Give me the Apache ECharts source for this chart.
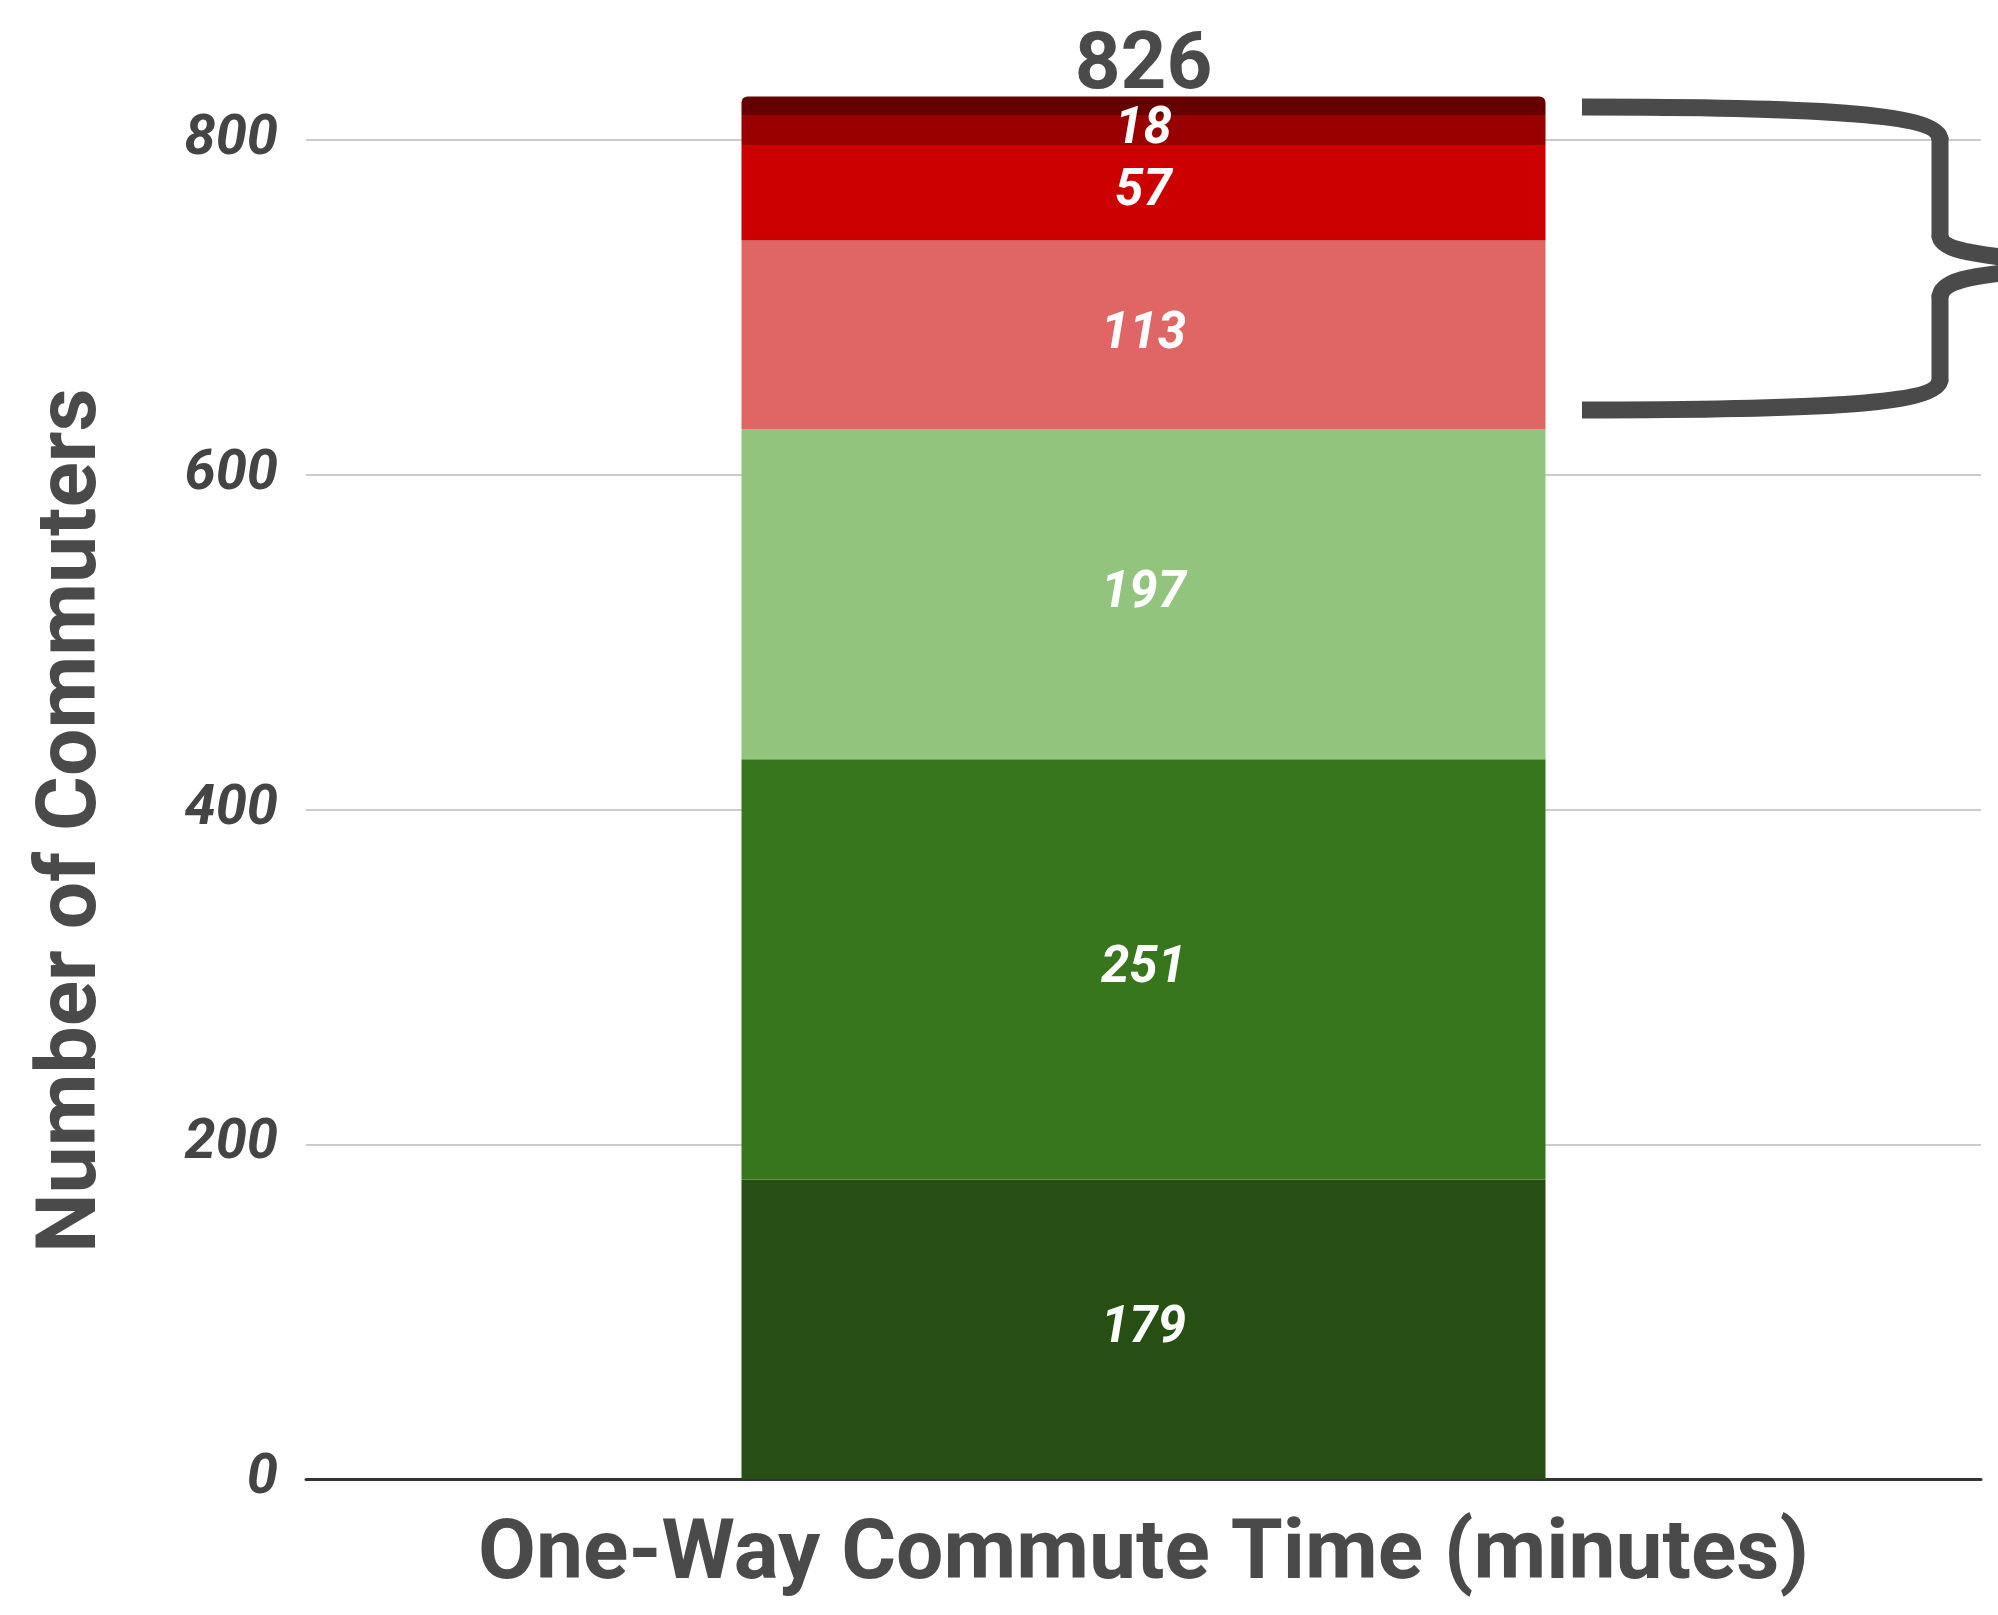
<!DOCTYPE html>
<html>
<head>
<meta charset="utf-8">
<script src="https://cdn.jsdelivr.net/npm/echarts@6/dist/echarts.min.js"></script>
<style>
html,body{margin:0;padding:0;background:#fff;}
#chart{width:1998px;height:1615px;}
</style>
</head>
<body>
<div id="chart"></div>
<script>
// ---- data ----
const categories = ["Commuters"];
const segmentNames = ["Segment 1", "Segment 2", "Segment 3", "Segment 4", "Segment 5", "Segment 6", "Segment 7"];
const segmentValues = [179, 251, 197, 113, 57, 18, 11];
const yTicks = [0, 200, 400, 600, 800];
const xAxisTitle = "One-Way Commute Time (minutes)";
const yAxisTitle = "Number of Commuters";

// ---- styles ----
const segmentColors = ["#274e13", "#38761d", "#93c47d", "#e06666", "#cc0000", "#990000", "#660000"];
const FONT = "Roboto";
const total = segmentValues.reduce((a, b) => a + b, 0);
const lastIdx = segmentValues.length - 1;

const series = segmentValues.map((v, i) => {
  const isTop = i === lastIdx;
  return {
    name: segmentNames[i],
    type: "bar",
    stack: "total",
    clip: false,
    barWidth: "48%",
    data: [v],
    itemStyle: { color: segmentColors[i], borderRadius: isTop ? [6, 6, 0, 0] : 0 },
    label: isTop ? {
      show: true,
      position: "top",
      distance: -12,
      formatter: () => String(total),
      color: "#4a4a4a",
      fontFamily: FONT,
      fontWeight: "bold",
      fontSize: 80
    } : {
      show: true,
      position: "inside",
      color: "#ffffff",
      fontFamily: FONT,
      fontWeight: "bold",
      fontStyle: "italic",
      fontSize: 51,
      padding: [10, 0, 0, 0]
    },
    emphasis: { disabled: true }
  };
});

// brace annotation (decorative)
const braceStyle = { stroke: "#4a4a4a", lineWidth: 17, fill: null, lineCap: "butt" };
function bez(x1, y1, cx1, cy1, cx2, cy2, x2, y2) {
  return { type: "bezierCurve", silent: true, z: 100,
    shape: { x1: x1, y1: y1, cpx1: cx1, cpy1: cy1, cpx2: cx2, cpy2: cy2, x2: x2, y2: y2 },
    style: braceStyle };
}
function seg(x1, y1, x2, y2) {
  return { type: "line", silent: true, z: 100, shape: { x1: x1, y1: y1, x2: x2, y2: y2 }, style: braceStyle };
}

const chart = echarts.init(document.getElementById("chart"), null, { renderer: "canvas" });
chart.setOption({
  animation: false,
  backgroundColor: "#ffffff",
  grid: { left: 306, right: 17, top: 140, bottom: 136 },
  xAxis: {
    type: "category",
    data: categories,
    axisLine: { show: true, lineStyle: { color: "#333333", width: 3 } },
    axisTick: { show: false },
    axisLabel: { show: false },
    name: xAxisTitle,
    nameLocation: "middle",
    nameGap: 36,
    nameTextStyle: { color: "#4a4a4a", fontFamily: FONT, fontWeight: "bold", fontSize: 84 }
  },
  yAxis: {
    type: "value",
    min: yTicks[0],
    max: yTicks[yTicks.length - 1],
    interval: yTicks[1] - yTicks[0],
    axisLine: { show: false },
    axisTick: { show: false },
    splitLine: { show: true, lineStyle: { color: "#cccccc", width: 2 } },
    axisLabel: {
      margin: 28,
      color: "#444444",
      fontFamily: FONT,
      fontWeight: "bold",
      fontStyle: "italic",
      fontSize: 56,
      padding: [10, 0, 0, 0]
    },
    name: yAxisTitle,
    nameLocation: "middle",
    nameGap: 190,
    nameRotate: 90,
    nameTextStyle: { color: "#4a4a4a", fontFamily: FONT, fontWeight: "bold", fontSize: 84, padding: [0, 22, 0, 0] }
  },
  series: series,
  graphic: [
    bez(1582, 107, 1800, 107, 1940, 112, 1940, 140),
    seg(1940, 137, 1940, 238),
    bez(1940, 235, 1940, 250, 1975, 254, 2010, 258),
    bez(2010, 272, 1975, 276, 1940, 280, 1940, 298),
    seg(1940, 294, 1940, 382),
    bez(1940, 379, 1940, 406, 1800, 410, 1582, 410)
  ]
});
</script>
</body>
</html>
